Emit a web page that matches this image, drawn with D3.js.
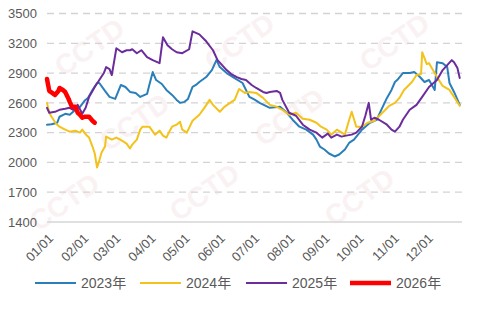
<!DOCTYPE html>
<html><head><meta charset="utf-8">
<script src="https://cdn.jsdelivr.net/npm/d3@7"></script>
<style>
html,body{margin:0;padding:0;background:#fff;}
svg{display:block;font-family:"Liberation Sans","Noto Sans CJK SC",Arial,sans-serif;}
</style></head>
<body><svg id="c" width="482" height="310"></svg>
<script>
// ---- data ----
const seriesNames = ["2023年", "2024年", "2025年", "2026年"];
const seriesColors = ["#2a7fba", "#f3c31b", "#6b2c9c", "#ff0000"];
const seriesWidths = [2, 2, 2, 4.5];

const yTicks = [1400, 1700, 2000, 2300, 2600, 2900, 3200, 3500];
const xTickLabels = ["01/01","02/01","03/01","04/01","05/01","06/01","07/01","08/01","09/01","10/01","11/01","12/01"];

const dates2023 = ["01-01","01-05","01-10","01-12","01-17","01-21","01-26","01-30","02-03","02-06","02-10","02-14","02-16","02-21","02-25","03-02","03-07","03-11","03-15","03-20","03-24","03-30","04-01","04-04","04-07","04-12","04-16","04-21","04-25","04-28","05-02","05-05","05-09","05-12","05-15","05-21","05-26","05-30","06-02","06-08","06-15","06-22","06-28","07-03","07-07","07-16","07-25","07-31","08-05","08-11","08-17","08-23","08-26","08-29","09-02","09-06","09-11","09-15","09-20","09-24","09-28","10-05","10-12","10-18","10-22","10-27","10-31","11-03","11-05","11-10","11-16","11-20","11-25","11-29","12-03","12-08","12-10","12-15","12-19","12-21","12-25","12-30"];
const values2023 = [2380,2385,2400,2460,2490,2480,2530,2560,2620,2650,2730,2800,2800,2720,2660,2640,2780,2760,2710,2700,2660,2690,2780,2910,2830,2790,2730,2680,2630,2600,2610,2640,2760,2780,2810,2860,2930,3030,2960,2900,2850,2800,2660,2630,2600,2550,2560,2500,2430,2360,2330,2280,2230,2160,2130,2090,2060,2080,2130,2200,2230,2330,2400,2430,2530,2650,2730,2810,2830,2900,2900,2910,2860,2810,2830,2730,3010,3000,2960,2800,2710,2580];

const dates2024 = ["01-01","01-03","01-05","01-09","01-12","01-17","01-21","01-26","01-30","02-01","02-05","02-07","02-10","02-12","02-14","02-15","02-18","02-21","02-22","02-27","03-03","03-08","03-12","03-15","03-17","03-21","03-24","03-26","04-01","04-06","04-10","04-13","04-16","04-19","04-21","04-25","04-28","04-30","05-04","05-09","05-15","05-20","05-24","05-27","06-02","06-06","06-11","06-15","06-19","06-24","06-28","07-04","07-10","07-16","07-22","07-27","08-02","08-08","08-14","08-20","08-26","08-30","09-04","09-08","09-13","09-20","09-23","09-26","09-30","10-05","10-10","10-16","10-23","10-29","11-03","11-07","11-11","11-18","11-22","11-26","11-27","12-01","12-03","12-10","12-15","12-21","12-25","12-30"];
const values2024 = [2600,2500,2460,2390,2360,2330,2310,2320,2300,2330,2270,2250,2160,2090,1950,1980,2100,2160,2260,2230,2250,2220,2190,2140,2180,2230,2330,2360,2360,2280,2320,2270,2250,2320,2360,2380,2410,2330,2300,2420,2480,2560,2630,2580,2510,2560,2600,2630,2740,2700,2710,2700,2650,2580,2560,2530,2480,2500,2440,2430,2400,2360,2330,2280,2330,2280,2400,2510,2360,2360,2400,2420,2500,2570,2600,2650,2730,2810,2880,2890,3110,2990,3000,2860,2770,2730,2660,2570];

const dates2025 = ["01-01","01-03","01-08","01-12","01-17","01-21","01-24","01-28","02-01","02-04","02-07","02-12","02-16","02-20","02-22","02-25","02-27","03-03","03-08","03-12","03-15","03-17","03-21","03-25","03-30","04-04","04-10","04-13","04-14","04-17","04-21","04-25","04-30","05-06","05-09","05-13","05-15","05-21","05-27","05-31","06-04","06-08","06-12","06-17","06-21","06-25","06-30","07-04","07-10","07-13","07-16","07-22","07-25","07-27","08-02","08-08","08-14","08-20","08-26","08-31","09-05","09-08","09-13","09-17","09-21","09-26","09-30","10-05","10-08","10-11","10-13","10-16","10-20","10-27","10-31","11-03","11-07","11-10","11-16","11-22","11-27","12-03","12-10","12-15","12-19","12-23","12-25","12-28","12-30"];
const values2025 = [2550,2500,2510,2530,2540,2550,2530,2580,2490,2550,2660,2760,2830,2900,2960,2940,2880,3150,3110,3130,3130,3140,3100,3130,3060,3030,3000,3260,3240,3180,3140,3110,3100,3140,3320,3300,3290,3220,3130,3030,2980,2930,2890,2860,2840,2830,2780,2750,2710,2700,2710,2720,2700,2630,2500,2470,2380,2330,2300,2250,2290,2250,2280,2260,2270,2280,2300,2360,2470,2600,2430,2450,2430,2380,2330,2310,2360,2430,2530,2580,2660,2760,2830,2930,2980,3030,3010,2950,2850];

const dates2026 = ["01-01","01-02","01-03","01-08","01-11","01-12","01-15","01-17","01-20","01-21","01-23","01-26","01-28","01-30","02-01","02-03","02-06","02-07","02-10","02-12"];
const values2026 = [2840,2780,2720,2680,2720,2750,2730,2710,2640,2610,2560,2560,2500,2480,2450,2460,2460,2460,2420,2400];

const allDates = [dates2023, dates2024, dates2025, dates2026];
const allValues = [values2023, values2024, values2025, values2026];

// ---- drawing ----
const svg = d3.select("#c");
const parse = s => { const [m, d] = s.split("-").map(Number); return new Date(2001, m - 1, d); };
const x = d3.scaleTime().domain([new Date(2001, 0, 1), new Date(2002, 0, 1)]).range([47, 462]);
const y = d3.scaleLinear().domain([1400, 3500]).range([222, 13.5]);

// faint watermarks
const wm = [[95,55],[245,50],[400,50],[140,130],[295,125],[70,210],[210,200],[365,205]];
svg.append("g").selectAll("text").data(wm).join("text")
  .attr("transform", d => `translate(${d[0]},${d[1]}) rotate(-35)`)
  .attr("text-anchor", "middle").attr("font-size", 28).attr("font-weight", "bold")
  .attr("fill", "#f6e9e9").attr("opacity", 0.55).text("CCTD");

// gridlines
svg.append("g").selectAll("line").data(yTicks).join("line")
  .attr("x1", 47).attr("x2", 462)
  .attr("y1", d => y(d)).attr("y2", d => y(d))
  .attr("stroke", d => d === 1400 ? "#d6d6d6" : "#d3d3d3")
  .attr("stroke-width", d => d === 1400 ? 1.5 : 1.3)
  .attr("stroke-dasharray", d => d === 1400 ? null : "7,5");

// y axis labels
svg.append("g").selectAll("text").data(yTicks).join("text")
  .attr("x", 37).attr("y", d => y(d)).attr("dy", "0.36em")
  .attr("text-anchor", "end").attr("font-size", 13).attr("fill", "#595959")
  .text(d => d);

// x axis labels
const monthStarts = d3.range(12).map(i => new Date(2001, i, 1));
svg.append("g").selectAll("text").data(monthStarts).join("text")
  .attr("transform", d => `translate(${x(d) + 4},${236}) rotate(-45)`)
  .attr("text-anchor", "end").attr("dy", "0.35em")
  .attr("font-size", 13).attr("fill", "#595959")
  .text((d, i) => xTickLabels[i]);

// series lines
const line = d3.line().x(d => x(d.date)).y(d => y(d.value)).curve(d3.curveLinear);
allDates.forEach((ds, i) => {
  const pts = ds.map((s, j) => ({ date: parse(s), value: allValues[i][j] }));
  svg.append("path").datum(pts)
    .attr("d", line).attr("fill", "none")
    .attr("stroke", seriesColors[i]).attr("stroke-width", seriesWidths[i])
    .attr("stroke-linejoin", "round").attr("stroke-linecap", "round");
});

// legend
const legX = [35, 140, 246, 350];
const lg = svg.append("g").selectAll("g").data(seriesNames).join("g")
  .attr("transform", (d, i) => `translate(${legX[i]},283)`);
lg.append("line").attr("x1", 0).attr("x2", 41).attr("y1", 0).attr("y2", 0)
  .attr("stroke", (d, i) => seriesColors[i]).attr("stroke-width", (d, i) => i === 3 ? 4.5 : 2.2);
lg.append("text").attr("x", 46).attr("dy", "0.36em")
  .attr("font-size", 14).attr("fill", "#595959").text(d => d);
</script></body></html>
